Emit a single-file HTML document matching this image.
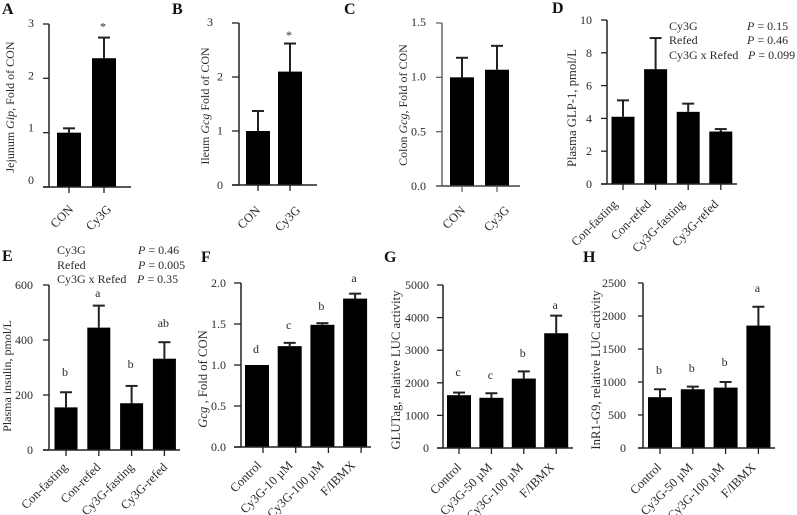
<!DOCTYPE html>
<html lang="en">
<head>
<meta charset="utf-8">
<title>Cy3G bar chart panels</title>
<style>
html,body{margin:0;padding:0;background:#fff;width:797px;height:515px;overflow:hidden}
svg{display:block}
text{font-family:"Liberation Serif",serif;font-size:12px;fill:#2a2a2a}
.letter{font-size:16px;font-weight:bold;fill:#111}
.wide{font-size:12.7px}
</style>
</head>
<body>
<svg id="figure" width="797" height="515" viewBox="0 0 797 515" xmlns="http://www.w3.org/2000/svg">
<rect width="797" height="515" fill="#fff"/>
<text class="letter" x="2" y="14">A</text>
<text class="letter" x="172" y="14">B</text>
<text class="letter" x="344" y="14">C</text>
<text class="letter" x="552" y="13">D</text>
<text class="letter" x="2" y="261">E</text>
<text class="letter" x="201" y="262">F</text>
<text class="letter" x="384" y="262">G</text>
<text class="letter" x="583" y="262">H</text>

<text transform="translate(14,107) rotate(-90)" text-anchor="middle">Jejunum <tspan font-style="italic">Gip</tspan>, Fold of CON</text>
<text transform="translate(209,106) rotate(-90)" text-anchor="middle">Ileum <tspan font-style="italic">Gcg</tspan> Fold of CON</text>
<text transform="translate(407,105) rotate(-90)" text-anchor="middle">Colon <tspan font-style="italic">Gcg</tspan>, Fold of CON</text>
<text class="wide" transform="translate(576,108) rotate(-90)" text-anchor="middle">Plasma GLP-1, pmol/L</text>
<text transform="translate(11,376) rotate(-90)" text-anchor="middle">Plasma insulin, pmol/L</text>
<text class="wide" transform="translate(207,379) rotate(-90)" text-anchor="middle"><tspan font-style="italic">Gcg</tspan> , Fold of CON</text>
<text class="wide" transform="translate(400,370) rotate(-90)" text-anchor="middle">GLUTag, relative LUC activity</text>
<text class="wide" transform="translate(600,370) rotate(-90)" text-anchor="middle">InR1-G9, relative LUC activity</text>

<g>
<text x="669" y="30">Cy3G</text><text x="747" y="30"><tspan font-style="italic">P</tspan> = 0.15</text>
<text x="669" y="44">Refed</text><text x="747" y="44"><tspan font-style="italic">P</tspan> = 0.46</text>
<text x="669" y="59">Cy3G x Refed</text><text x="748" y="59"><tspan font-style="italic">P</tspan> = 0.099</text>
</g>
<g>
<text x="57" y="254">Cy3G</text><text x="138" y="254"><tspan font-style="italic">P</tspan> = 0.46</text>
<text x="57" y="269">Refed</text><text x="138" y="269"><tspan font-style="italic">P</tspan> = 0.005</text>
<text x="57" y="283">Cy3G x Refed</text><text x="137" y="283"><tspan font-style="italic">P</tspan> = 0.35</text>
</g>
</svg>
<script>
const conCy3G = ['CON', 'Cy3G'];
const feedGroups = ['Con-fasting', 'Con-refed', 'Cy3G-fasting', 'Cy3G-refed'];
const doseGroupsF = ['Control', 'Cy3G-10 µM', 'Cy3G-100 µM', 'F/IBMX'];
const doseGroupsGH = ['Control', 'Cy3G-50 µM', 'Cy3G-100 µM', 'F/IBMX'];

const ticksA = ['0', '1', '2', '3'];
const valuesA = [1.0, 2.37];
const upperA = [1.08, 2.75];
const marksA = ['', '*'];
const markLevelsA = [0, 2.95];

const ticksB = ['0', '1', '2', '3'];
const valuesB = [1.0, 2.1];
const upperB = [1.37, 2.62];
const marksB = ['', '*'];
const markLevelsB = [0, 2.78];

const ticksC = ['0.0', '0.5', '1.0', '1.5'];
const valuesC = [1.0, 1.07];
const upperC = [1.18, 1.29];

const ticksD = ['0', '2', '4', '6', '8', '10'];
const valuesD = [4.1, 7.0, 4.4, 3.2];
const upperD = [5.1, 8.9, 4.9, 3.35];

const ticksE = ['0', '200', '400', '600'];
const valuesE = [155, 445, 170, 332];
const upperE = [210, 525, 233, 392];
const marksE = ['b', 'a', 'b', 'ab'];
const markLevelsE = [284, 571, 313, 462];

const ticksF = ['0.0', '0.5', '1.0', '1.5', '2.0'];
const valuesF = [1.0, 1.23, 1.49, 1.81];
const upperF = [1.0, 1.27, 1.51, 1.87];
const marksF = ['d', 'c', 'b', 'a'];
const markLevelsF = [1.195, 1.49, 1.72, 2.06];

const ticksG = ['0', '1000', '2000', '3000', '4000', '5000'];
const valuesG = [1620, 1540, 2130, 3520];
const upperG = [1700, 1680, 2350, 4060];
const marksG = ['c', 'c', 'b', 'a'];
const markLevelsG = [2331, 2239, 2914, 4387];

const ticksH = ['0', '500', '1000', '1500', '2000', '2500'];
const valuesH = [770, 890, 915, 1855];
const upperH = [890, 930, 1000, 2140];
const marksH = ['b', 'b', 'b', 'a'];
const markLevelsH = [1182, 1212, 1303, 2424];

const panels = [
  {cats: conCy3G, ticks: ticksA, vals: valuesA, up: upperA, marks: marksA, levels: markLevelsA,
   axisX: 49, top: 24, bottom: 187, left: 43, right: 131, first: 69, step: 35, tickDx: 0,
   labelRight: 34, topLabelDx: 0, shift0: -7, shift1: -1, ldx: 5, ldy: 23, labelStep: 38, axisColor: '#222', barW: 24},
  {cats: conCy3G, ticks: ticksB, vals: valuesB, up: upperB, marks: marksB, levels: markLevelsB,
   axisX: 239, top: 23, bottom: 185, left: 232, right: 317, first: 258, step: 32, tickDx: 0,
   labelRight: 223, topLabelDx: -10, shift0: 0, shift1: -1, ldx: 3, ldy: 26, labelStep: 40, axisColor: '#222', barW: 24},
  {cats: conCy3G, ticks: ticksC, vals: valuesC, up: upperC, marks: [], levels: [],
   axisX: 442, top: 23, bottom: 186, left: 436, right: 520, first: 462, step: 35, tickDx: 0,
   labelRight: 426, topLabelDx: 0, shift0: 0, shift1: -1, ldx: 4, ldy: 25, labelStep: 44, axisColor: '#666', barW: 24},
  {cats: feedGroups, ticks: ticksD, vals: valuesD, up: upperD, marks: [], levels: [],
   axisX: 607, top: 20, bottom: 184, left: 601, right: 737, first: 623, step: 32.6, tickDx: 0,
   labelRight: 592, topLabelDx: 0, shift0: 0, shift1: 0, ldx: -5, ldy: 21, labelStep: 33.7, axisColor: '#222', barW: 23},
  {cats: feedGroups, ticks: ticksE, vals: valuesE, up: upperE, marks: marksE, levels: markLevelsE,
   axisX: 49, top: 285, bottom: 450, left: 43, right: 180, first: 66, step: 32.8, tickDx: 0,
   labelRight: 33, topLabelDx: 0, shift0: 0, shift1: 0, ldx: 2, ldy: 18, labelStep: 33.3, axisColor: '#222', barW: 23},
  {cats: doseGroupsF, ticks: ticksF, vals: valuesF, up: upperF, marks: marksF, levels: markLevelsF,
   axisX: 241, top: 283, bottom: 447, left: 234, right: 371, first: 257, step: 32.7, tickDx: 6,
   labelRight: 226, topLabelDx: 0, shift0: 0, shift1: 0, ldx: -1, ldy: 19, labelStep: 31.3, axisColor: '#222', barW: 24},
  {cats: doseGroupsGH, ticks: ticksG, vals: valuesG, up: upperG, marks: marksG, levels: markLevelsG,
   axisX: 443, top: 285, bottom: 448, left: 437, right: 573, first: 459, step: 32.4, tickDx: 0,
   labelRight: 429, topLabelDx: 0, shift0: 0, shift1: 0, ldx: 3, ldy: 20, labelStep: 31, axisColor: '#222', barW: 24},
  {cats: doseGroupsGH, ticks: ticksH, vals: valuesH, up: upperH, marks: marksH, levels: markLevelsH,
   axisX: 643, top: 283, bottom: 448, left: 638, right: 775, first: 660, step: 32.8, tickDx: 0,
   labelRight: 626, topLabelDx: 0, shift0: 0, shift1: 0, ldx: 2, ldy: 20, labelStep: 31.5, axisColor: '#222', barW: 24}
];

const NS = 'http://www.w3.org/2000/svg';
const figure = document.getElementById('figure');

function line(parent, x1, y1, x2, y2, color, width) {
  const el = document.createElementNS(NS, 'line');
  el.setAttribute('x1', x1);
  el.setAttribute('y1', y1);
  el.setAttribute('x2', x2);
  el.setAttribute('y2', y2);
  el.setAttribute('stroke', color);
  el.setAttribute('stroke-width', width);
  parent.appendChild(el);
  return el;
}

function label(parent, str, x, y, anchor) {
  const el = document.createElementNS(NS, 'text');
  el.setAttribute('x', x);
  el.setAttribute('y', y);
  el.setAttribute('text-anchor', anchor);
  el.textContent = str;
  parent.appendChild(el);
  return el;
}

panels.forEach(function (p) {
  const maxV = Number(p.ticks[p.ticks.length - 1]);
  const yScale = function (v) { return p.bottom - (v / maxV) * (p.bottom - p.top); };
  const xScale = function (i) { return p.first + i * p.step; };

  const g = document.createElementNS(NS, 'g');
  
  
  figure.appendChild(g);

  p.vals.forEach(function (v, i) {
    const cx = xScale(i);
    if (p.up[i] > v) {
      const stem = line(g, cx, yScale(p.up[i]), cx, yScale(v), '#222', 2);
      
      
      const cap = line(g, cx - 6, yScale(p.up[i]), cx + 6, yScale(p.up[i]), '#222', 2);
      
      
    }
    const bar = document.createElementNS(NS, 'rect');
    bar.setAttribute('x', cx - p.barW / 2);
    bar.setAttribute('y', yScale(v));
    bar.setAttribute('width', p.barW);
    bar.setAttribute('height', p.bottom - yScale(v));
    bar.setAttribute('fill', '#000');
    
    
    g.appendChild(bar);
  });

  const yAxis = line(g, p.axisX, p.top, p.axisX, p.bottom, p.axisColor, 1.5);
  
  
  const xAxis = line(g, p.left, p.bottom, p.right, p.bottom, p.axisColor === '#666' ? '#444' : p.axisColor, 1.5);
  
  

  p.ticks.forEach(function (t, i) {
    const y = yScale(Number(t));
    const tick = line(g, p.left, y, p.axisX, y, p.axisColor, 1.3);
    
    
    const frac = i / (p.ticks.length - 1);
    const shift = p.shift0 + (p.shift1 - p.shift0) * frac;
    const isTop = i === p.ticks.length - 1;
    const tl = label(g, t, p.labelRight + (isTop ? p.topLabelDx : 0), y + shift + 4, 'end');
    
    
  });

  p.cats.forEach(function (c, i) {
    const tx = xScale(i) + p.tickDx;
    const tick = line(g, tx, p.bottom, tx, p.bottom + 6, p.axisColor, 1.3);
    
    
    const ax = p.first + p.tickDx + i * p.labelStep + p.ldx;
    const ay = p.bottom + p.ldy;
    const cl = label(g, c, ax, ay, 'end');
    cl.setAttribute('transform', 'rotate(-45 ' + ax + ' ' + ay + ')');
    cl.setAttribute('font-size', '12.5');
    cl.style.fontSize = '12.5px';
    
    
  });

  p.marks.forEach(function (m, i) {
    if (!m) return;
    const ml = label(g, m, xScale(i) - 1, yScale(p.levels[i]) + 4, 'middle');
    
    
  });
});
</script>
</body>
</html>
